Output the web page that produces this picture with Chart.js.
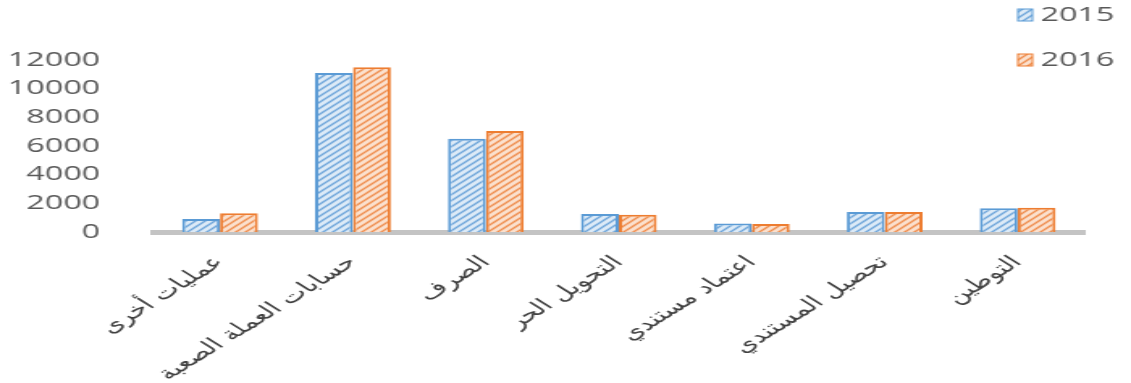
<!DOCTYPE html>
<html>
<head>
<meta charset="utf-8">
<script src="https://cdn.jsdelivr.net/npm/chart.js@4"></script>
<style>
  body { margin: 0; background: #fff; overflow: hidden; }
  /* the original picture is a stretched Excel chart, so draw narrow and stretch */
  #wrap { position: absolute; left: 0; top: 0; width: 700px; height: 383px; transform: scaleX(1.6157); transform-origin: 0 0; }
</style>
</head>
<body>
<div id="wrap"><canvas id="chart"></canvas></div>
<script>
var categories = ['عمليات أخرى', 'حسابات العملة الصعبة', 'الصرف', 'التحويل الحر', 'اعتماد مستندي', 'تحصيل المستندي', 'التوطين'];
var values2015 = [900, 11100, 6500, 1250, 600, 1400, 1650];
var values2016 = [1300, 11500, 7050, 1200, 550, 1400, 1700];
var seriesNames = ['2015', '2016'];
var yTicks = [0, 2000, 4000, 6000, 8000, 10000, 12000];

var canvas = document.getElementById('chart');
var ctx = canvas.getContext('2d');

function hatch(bg, fg) {
  var c = document.createElement('canvas');
  c.width = 6; c.height = 6;
  var g = c.getContext('2d');
  g.fillStyle = bg;
  g.fillRect(0, 0, 6, 6);
  g.strokeStyle = fg;
  g.lineWidth = 1.4;
  g.beginPath();
  g.moveTo(0, 6); g.lineTo(6, 0);
  g.moveTo(-1, 1); g.lineTo(1, -1);
  g.moveTo(5, 7); g.lineTo(7, 5);
  g.stroke();
  return ctx.createPattern(c, 'repeat');
}

var blueFill = hatch('#dceaf7', '#6fa6da');
var orangeFill = hatch('#fbe0cd', '#ef8e4f');

// legend stacked at the top right, like the original
var sideLegend = {
  id: 'sideLegend',
  afterDraw: function (chart) {
    var c = chart.ctx;
    c.save();
    c.font = '20px "Open Sans", "DejaVu Sans", sans-serif';
    c.textBaseline = 'middle';
    chart.data.datasets.forEach(function (ds, i) {
      var y = 15 + i * 45;
      c.fillStyle = ds.backgroundColor;
      c.fillRect(630, y - 6, 9, 12);
      c.strokeStyle = ds.borderColor;
      c.lineWidth = 1;
      c.strokeRect(630, y - 6, 9, 12);
      c.fillStyle = '#595959';
      c.fillText(ds.label, 644, y);
    });
    c.restore();
  }
};

new Chart(ctx, {
  type: 'bar',
  data: {
    labels: categories,
    datasets: [{
      label: seriesNames[0],
      data: values2015,
      backgroundColor: blueFill,
      borderColor: '#5b9bd5',
      borderWidth: 2
    }, {
      label: seriesNames[1],
      data: values2016,
      backgroundColor: orangeFill,
      borderColor: '#ed7d31',
      borderWidth: 2
    }]
  },
  options: {
    responsive: true,
    maintainAspectRatio: false,
    animation: false,
    layout: {
      padding: { top: 60, right: 29, left: 0, bottom: 0 }
    },
    datasets: {
      bar: { categoryPercentage: 0.57, barPercentage: 1 }
    },
    plugins: {
      legend: { display: false },
      tooltip: { enabled: false }
    },
    scales: {
      x: {
        grid: { display: false, drawTicks: false },
        border: { display: true, color: '#c4c4c4', width: 5 },
        ticks: {
          minRotation: 45,
          maxRotation: 45,
          padding: 20,
          color: '#404040',
          font: { family: '"DejaVu Sans", sans-serif', size: 18 }
        },
        afterFit: function (scale) { scale.height = 151; }
      },
      y: {
        min: 0,
        max: 12000,
        afterBuildTicks: function (scale) {
          scale.ticks = yTicks.map(function (v) { return { value: v }; });
        },
        grid: { display: false, drawTicks: false },
        border: { display: false },
        ticks: {
          padding: 33,
          color: '#595959',
          font: { family: '"Open Sans", sans-serif', size: 20 },
          callback: function (v) { return String(v); }
        },
        afterFit: function (scale) { scale.width = 95; }
      }
    }
  },
  plugins: [sideLegend]
});
</script>
</body>
</html>
